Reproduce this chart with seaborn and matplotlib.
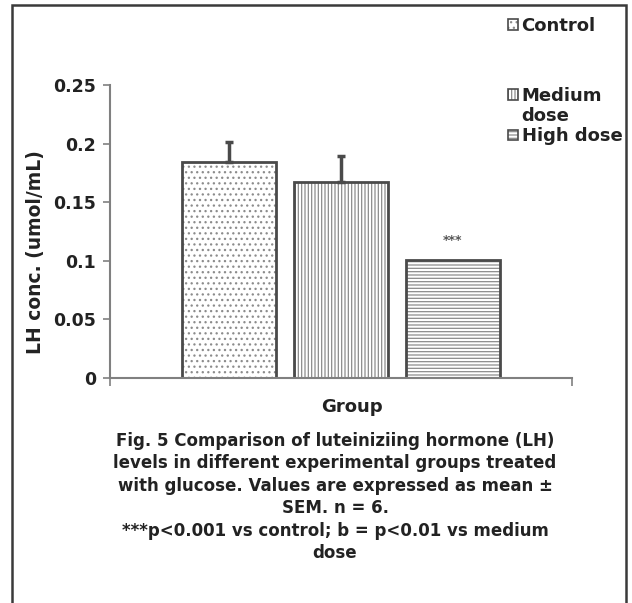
import numpy as np
import pandas as pd
import matplotlib
matplotlib.use("Agg")
import matplotlib.pyplot as plt
import seaborn as sns
from matplotlib.colors import to_rgba
from matplotlib.patches import Rectangle

# ---- data ----
groups = ["Control", "Medium dose", "High dose"]
means = [0.184, 0.167, 0.101]
sems = [0.017, 0.022, 0.0]
yticks = [0, 0.05, 0.1, 0.15, 0.2, 0.25]
ytick_labels = ["0", "0.05", "0.1", "0.15", "0.2", "0.25"]
hatches = ["...", "|||||", "-----"]
caption = ("Fig. 5 Comparison of luteiniziing hormone (LH)\n"
           "levels in different experimental groups treated\n"
           "with glucose. Values are expressed as mean \u00b1\n"
           "SEM. n = 6.\n"
           "***p<0.001 vs control; b = p<0.01 vs medium\n"
           "dose")

sns.set_theme(style="white")
plt.rcParams["font.family"] = ["DejaVu Sans"]
plt.rcParams["font.weight"] = "bold"
plt.rcParams["hatch.linewidth"] = 0.9

TXT = "#222222"
EDGE = "#4a4a4a"
HATCH = "#8c8c8c"

W, H = 632, 603
fig = plt.figure(figsize=(W / 100, H / 100), dpi=100)
ax = fig.add_axes([110 / W, 1 - 378 / H, (572 - 110) / W, (378 - 85) / H])

df = pd.DataFrame({"x": ["Group"] * 3, "grp": groups, "val": means})
sns.barplot(data=df, x="x", y="val", hue="grp", hue_order=groups,
            palette=["white"] * 3, width=0.727, gap=0.16, errorbar=None,
            edgecolor=EDGE, linewidth=2.0, ax=ax, legend=False)

handles = []
for cont, h, m, s in zip(ax.containers, hatches, means, sems):
    for p in cont.patches:
        p.set_hatch(h)
        p.set_edgecolor(EDGE)
        p._hatch_color = to_rgba(HATCH)
        handles.append(p)
        cx = p.get_x() + p.get_width() / 2
        if s > 0:
            ax.errorbar([cx], [m], yerr=[[0], [s]], fmt="none", ecolor=EDGE,
                        elinewidth=2.5, capsize=3, capthick=2.5, zorder=1)

# significance mark above high dose bar
hp = ax.containers[2].patches[0]
ax.text(hp.get_x() + hp.get_width() / 2, means[2] + 0.011, "***", ha="center",
        va="bottom", fontsize=9, color="#555555", fontweight="bold")

ax.set_xlim(-0.5, 0.5)
ax.set_ylim(0, 0.25)
ax.set_yticks(yticks)
ax.set_yticklabels(ytick_labels)
ax.set_xticks([-0.5, 0.5])
ax.set_xticklabels(["", ""])
ax.tick_params(axis="y", direction="out", length=5, width=1.2, color="#808080",
               labelsize=12.5, pad=5, left=True)
ax.tick_params(axis="x", direction="out", length=6, width=1.2, color="#808080",
               bottom=True)
for lab in ax.get_yticklabels():
    lab.set_fontweight("bold")
    lab.set_color(TXT)
for sp in ["top", "right"]:
    ax.spines[sp].set_visible(False)
for sp in ["left", "bottom"]:
    ax.spines[sp].set_color("#808080")
    ax.spines[sp].set_linewidth(1.5)

ax.set_xlabel("Group", fontsize=13, fontweight="bold", color=TXT)
ax.xaxis.set_label_coords((352 - 110) / (572 - 110), -(407 - 378) / (378 - 85), transform=ax.transAxes)
ax.xaxis.label.set_va("center")
ax.set_ylabel("LH conc. (umol/mL)", fontsize=13.5, fontweight="bold", color=TXT)
ax.yaxis.set_label_coords(-(110 - 35) / (572 - 110), (378 - 252) / (378 - 85))
ax.yaxis.label.set_va("center")

# legend entries
blank = Rectangle((0, 0), 1, 1, fill=False, edgecolor="none", linewidth=0)
leg_specs = [
    ([handles[0]], ["Control"], (508, 17), 0.0),
    ([handles[1], blank, handles[2]], ["Medium", "dose", "High dose"], (508, 87), 0.12),
]
for hdls, labs, (lx, ly), ls in leg_specs:
    lg = fig.legend(hdls, labs, loc="upper left",
                    bbox_to_anchor=(lx / W, 1 - ly / H), frameon=False,
                    borderpad=0, borderaxespad=0, handlelength=0.55, handleheight=0.55,
                    handletextpad=0.2, labelspacing=ls,
                    prop={"weight": "bold", "size": 13})
    for t in lg.get_texts():
        t.set_color(TXT)
    for lh in lg.legend_handles:
        if lh.get_hatch():
            lh.set_linewidth(1.2)
            lh._hatch_color = to_rgba(HATCH)

# caption
fig.text(335 / W, 1 - 432 / H, caption, ha="center", va="top", fontsize=12,
         fontweight="bold", color=TXT, linespacing=1.32)

# outer frame
fig.patches.append(Rectangle((12 / W, -0.05), (626 - 12) / W, 1.05 - 5 / H,
                             transform=fig.transFigure, fill=False,
                             edgecolor="#3a3a3a", linewidth=1.8))

fig.savefig("out.png", dpi=100)
